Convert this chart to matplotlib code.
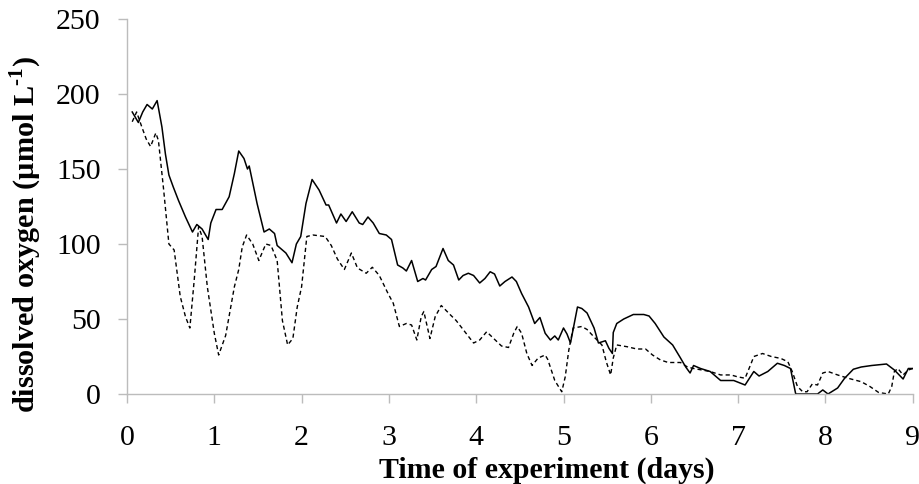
import matplotlib
matplotlib.use('Agg')
import matplotlib.pyplot as plt

# solid trace (days, umol/L)
solid_days = [0.06, 0.10, 0.13, 0.18, 0.23, 0.29, 0.345, 0.40, 0.44, 0.48, 0.53, 0.59, 0.67, 0.75,
              0.80, 0.86, 0.93, 0.96, 1.02, 1.09, 1.17, 1.23, 1.28, 1.34, 1.38, 1.40, 1.49, 1.57,
              1.63, 1.69, 1.72, 1.82, 1.89, 1.94, 1.99, 2.05, 2.12, 2.20, 2.28, 2.31, 2.40, 2.45,
              2.51, 2.58, 2.66, 2.70, 2.76, 2.82, 2.89, 2.97, 3.03, 3.10, 3.16, 3.20, 3.26, 3.33,
              3.39, 3.42, 3.49, 3.54, 3.62, 3.68, 3.74, 3.80, 3.85, 3.91, 3.97, 4.04, 4.10, 4.16,
              4.21, 4.27, 4.33, 4.41, 4.46, 4.52, 4.60, 4.67, 4.73, 4.79, 4.85, 4.90, 4.94, 5.00,
              5.04, 5.08, 5.11, 5.16, 5.21, 5.27, 5.35, 5.40, 5.48, 5.52, 5.56, 5.57, 5.61, 5.69,
              5.80, 5.92, 5.98, 6.05, 6.15, 6.25, 6.34, 6.40, 6.45, 6.49, 6.57, 6.68, 6.80, 6.95,
              7.08, 7.18, 7.24, 7.34, 7.45, 7.53, 7.60, 7.66, 7.91, 7.97, 8.03, 8.14, 8.22, 8.32,
              8.41, 8.53, 8.70, 8.79, 8.89, 8.95, 9.00]
solid_o2 = [188, 184, 181, 188, 193, 190, 195.6, 178, 160, 146, 138, 129, 118, 108,
            113, 110, 103, 114, 123, 123, 131.5, 147, 162, 157, 150, 152, 127, 108,
            110, 107, 99, 94, 87.5, 100, 105, 127, 143, 136, 126, 126, 114, 120,
            115, 121.5, 114, 113, 118, 114, 107, 106, 103, 86, 84, 82, 89, 75,
            77, 76, 83, 85, 97, 89, 86, 76, 79, 80.5, 79, 74, 77, 81.5,
            80, 72, 75, 78, 75, 67, 58, 47, 51, 40.5, 36, 38.7, 36, 44,
            40, 34, 43, 58, 57, 54, 44, 34, 35.5, 30.5, 27, 41, 47, 50,
            53, 53, 52, 47, 38, 32.7, 24, 18, 14, 19, 17, 15, 9, 9,
            6, 15, 12, 15, 20.5, 19, 17, 0, 0, 2.7, 0, 4, 10.5, 16.5,
            18, 19, 20, 16, 10, 17, 17]

# dashed trace
dashed_days = [0.06, 0.11, 0.17, 0.22, 0.27, 0.33, 0.36, 0.42, 0.48, 0.54, 0.61, 0.67, 0.72, 0.77,
               0.82, 0.86, 0.92, 1.00, 1.05, 1.13, 1.23, 1.28, 1.32, 1.37, 1.44, 1.51, 1.59, 1.65,
               1.72, 1.78, 1.84, 1.90, 1.95, 2.00, 2.06, 2.13, 2.27, 2.34, 2.41, 2.49, 2.57, 2.64,
               2.74, 2.81, 2.89, 2.99, 3.05, 3.12, 3.20, 3.26, 3.32, 3.37, 3.40, 3.47, 3.53, 3.60,
               3.70, 3.77, 3.87, 3.97, 4.04, 4.12, 4.20, 4.29, 4.37, 4.43, 4.47, 4.52, 4.58, 4.64,
               4.71, 4.79, 4.82, 4.90, 4.98, 5.02, 5.06, 5.11, 5.21, 5.27, 5.35, 5.44, 5.49, 5.54,
               5.57, 5.61, 5.73, 5.84, 5.94, 6.02, 6.11, 6.20, 6.34, 6.42, 6.49, 6.68, 6.80, 6.92,
               6.99, 7.08, 7.15, 7.18, 7.28, 7.38, 7.49, 7.57, 7.62, 7.68, 7.74, 7.79, 7.85, 7.91,
               7.97, 8.03, 8.14, 8.26, 8.41, 8.51, 8.61, 8.72, 8.76, 8.79, 8.83, 8.89, 8.95, 9.00]
dashed_o2 = [181.5, 188, 178, 170, 165, 174, 169, 136, 100, 96, 65, 51.5, 44, 76,
             111.5, 105, 71.5, 40.5, 26, 39, 71.5, 83, 98, 106, 100, 89, 100, 99,
             89, 49, 32.7, 37, 58, 71.5, 105, 106, 105, 99, 90, 83, 94, 84,
             80.5, 84.5, 79, 67, 60.5, 45, 47, 46, 36, 51.5, 55, 37, 51.5, 59,
             53, 49, 41.5, 34, 36, 41.5, 37, 32, 31, 40.5, 45, 40.5, 27, 19,
             24, 26, 23, 9, 1.5, 11.5, 29, 44, 45, 43, 38, 32.7, 21.5, 12.7,
             24, 32.7, 31.5, 30, 30, 26, 22.7, 21, 21, 18, 17, 15, 12.7, 12.7,
             11.5, 10.5, 20.5, 25, 27, 25, 23.7, 21.5, 15, 5, 1.5, 1.5, 6.7, 6,
             14, 15, 12.7, 10.5, 8.2, 5, 1, 0, 5, 15, 17, 12.7, 16, 17]

x_ticks = list(range(0, 10))
y_ticks = [0, 50, 100, 150, 200, 250]

plt.rcParams['font.family'] = ['Liberation Serif', 'DejaVu Serif']
plt.rcParams['mathtext.fontset'] = 'custom'
plt.rcParams['mathtext.rm'] = 'Liberation Serif:bold'

fig = plt.figure(figsize=(9.2, 4.84), dpi=100)
ax = fig.add_axes([127 / 920, 1 - 394 / 484, (912.7 - 127) / 920, (394 - 19) / 484])

ax.plot(solid_days, solid_o2, color='black', lw=1.1)
ax.plot(dashed_days, dashed_o2, color='black', lw=1.0, dashes=(3, 2.2))

ax.set_xlim(0, 9)
ax.set_ylim(0, 250)
ax.set_xticks(x_ticks)
ax.set_yticks(y_ticks)

for side in ['top', 'right']:
    ax.spines[side].set_visible(False)
for side in ['left', 'bottom']:
    ax.spines[side].set_color('#bcbcbc')
    ax.spines[side].set_linewidth(1.0)
ax.tick_params(axis='both', direction='out', length=6.5, width=1.0, color='#bcbcbc',
               labelsize=21.5, labelcolor='black')
ax.tick_params(axis='y', pad=12.5)
ax.tick_params(axis='x', pad=16)

fig.text(26 / 920, 1 - 234 / 484, 'dissolved oxygen (µmol L$^{\\text{-1}}$)', rotation=90,
         ha='center', va='center', fontsize=21.8, fontweight='bold')
fig.text(547 / 920, 1 - 478 / 484, 'Time of experiment (days)',
         ha='center', va='baseline', fontsize=21.5, fontweight='bold')

fig.savefig('out.png', dpi=100)
